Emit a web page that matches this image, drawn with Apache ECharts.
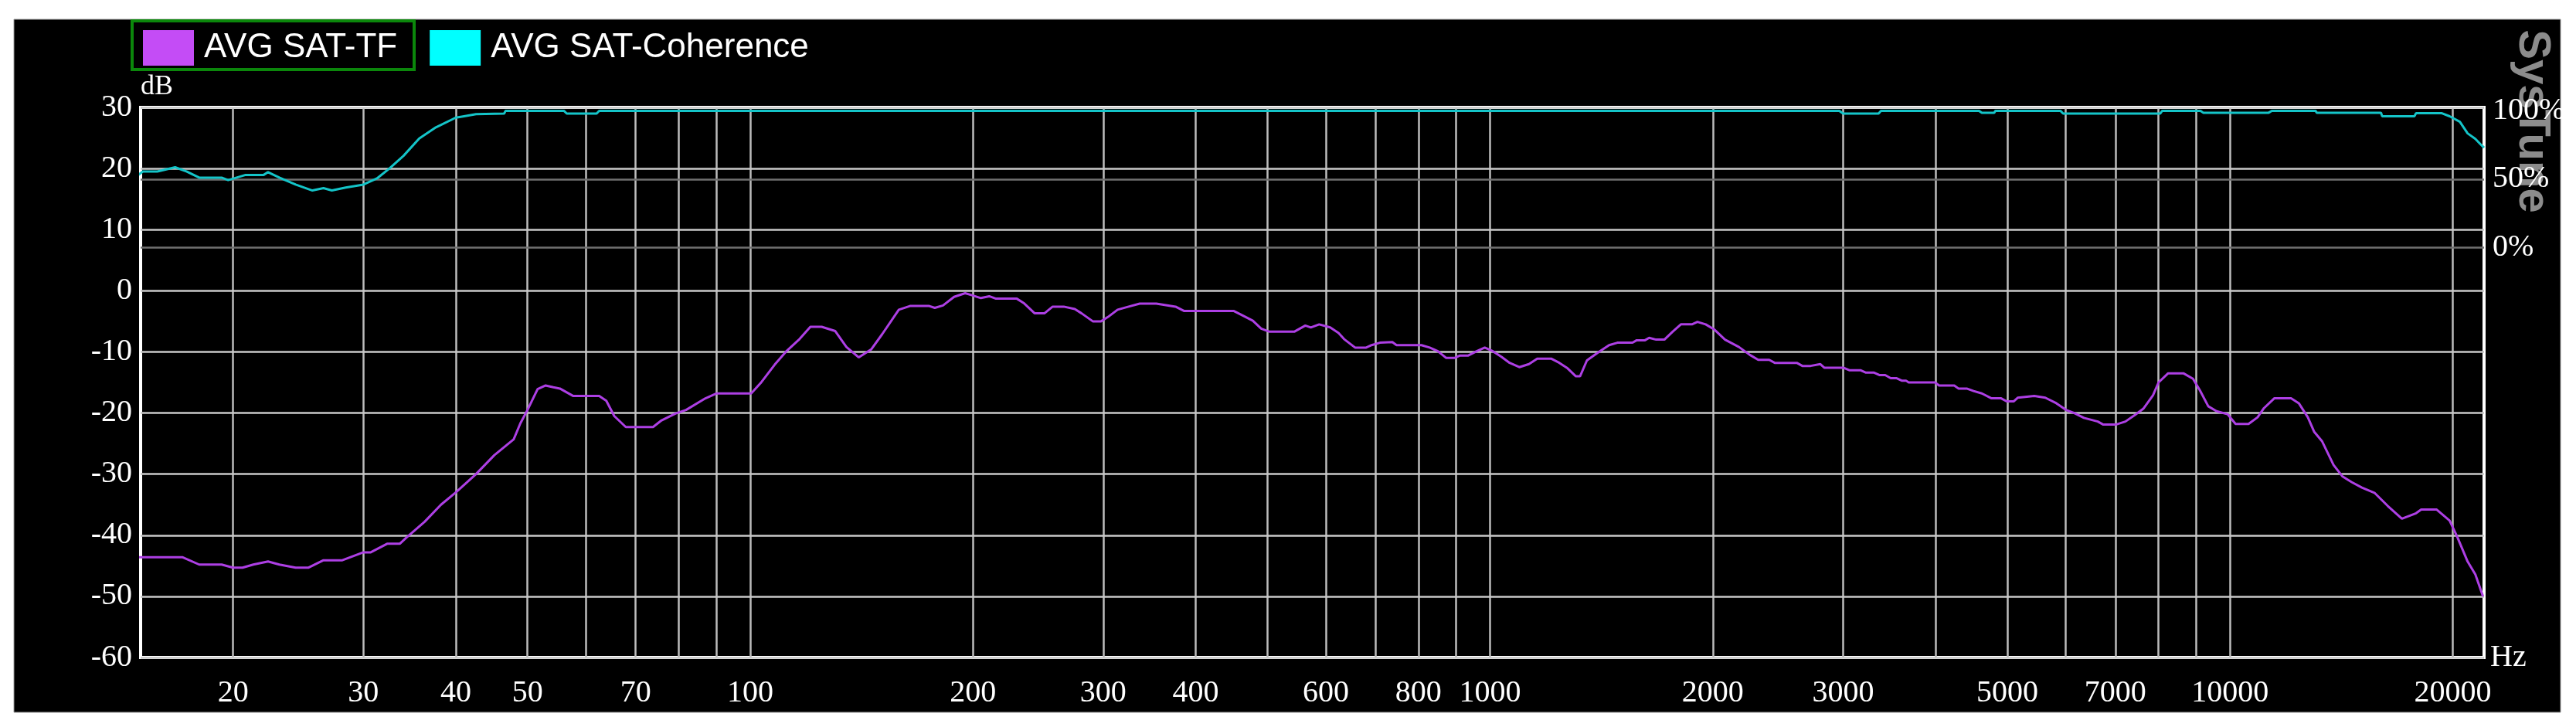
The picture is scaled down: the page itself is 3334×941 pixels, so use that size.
<!DOCTYPE html>
<html>
<head>
<meta charset="utf-8">
<script src="https://cdn.jsdelivr.net/npm/echarts@6.0.0/dist/echarts.min.js"></script>
<style>
html,body{margin:0;padding:0;background:#ffffff;}
#chart{width:3334px;height:941px;}
</style>
</head>
<body>
<div id="chart"></div>
<script>
// ---- data ----
const tfFreq = [14.9,17.1,18.0,19.3,20.0,20.6,21.3,22.3,23.1,24.3,25.3,26.5,28.1,30.0,30.7,32.3,33.6,34.3,36.3,38.2,40.0,42.6,45.1,47.9,48.9,50.0,51.6,52.9,54.2,
  55.3,57.6,62.5,63.9,65.5,67.9,73.9,75.9,79.2,81.9,87.0,90.1,100.3,103.3,107.9,111.7,116.6,120.6,124.9,130.3,134.9,140.2,145.7,150.8,158.8,164.4,174.6,177.6,182.2,188.6,195.2,
  199,205,210.4,214.9,229.3,234.2,242.4,249.8,256.3,265.3,274.6,280.5,290.4,298,304.4,313.7,324.7,336.1,353.9,375.7,385.6,450.1,465.8,477.9,490.5,503.3,543.6,562.7,572.4,587.5,607.9,624,634.7,656.9,680,691.6,709.6,
  737.7,747.4,807.5,828.6,850.2,872.4,895.2,910.6,934.4,958.9,983.5,1009,1035.6,1062.7,1095.2,1128.6,1158,1209.1,1240.6,1273,1306,1323,1351.7,1399.2,1448.2,1486,1557.8,1578.3,1619.5,1640.4,1676.3,1720,1764.7,1810.6,1874,1906.4,1956.3,2007.3,2077.4,2169,2244.6,2303.3,2383.6,2425,2597.4,2642.6,2711.2,
  2795,2831,3006,3058,3166,3221,3304,3362,3420,3479,3540,3600,3648,3679,3993,4044,4240,4295,4407,4503,4620,4761,4906,4991,5100,5165,5439,5628,5825,6003,6160,6347,6627,6742,7008,7222,7442,7636,7870,8007,8250,8650,8913,9107,9347,9591,9926,
  10176,10594,10897,11117,11478,12094,12389,12742,12999,13315,13804,14198,14601,15077,15694,16336,17075,17845,18132,19028,19810,20290,20950,21460,21980];
const tfDb = [-43.6,-43.6,-44.8,-44.8,-45.3,-45.3,-44.8,-44.3,-44.8,-45.3,-45.3,-44.1,-44.1,-42.8,-42.8,-41.4,-41.4,-40.4,-37.8,-35.0,-33.0,-30.0,-26.9,-24.3,-21.7,-19.5,-16.1,-15.5,-15.8,
  -16.0,-17.2,-17.2,-18.0,-20.5,-22.3,-22.3,-21.2,-20.1,-19.5,-17.6,-16.8,-16.8,-15.1,-12.1,-10.0,-7.9,-5.9,-5.9,-6.6,-9.2,-10.9,-9.6,-7.1,-3.1,-2.5,-2.5,-2.8,-2.4,-1.0,-0.4,
  -0.7,-1.2,-0.9,-1.3,-1.3,-2.0,-3.7,-3.7,-2.6,-2.6,-3.0,-3.7,-5.0,-5.0,-4.3,-3.1,-2.6,-2.1,-2.1,-2.6,-3.3,-3.3,-4.2,-4.9,-6.2,-6.7,-6.7,-5.7,-6.0,-5.5,-6.0,-6.9,-7.9,-9.3,-9.3,-8.9,-8.5,
  -8.4,-8.9,-8.9,-9.3,-9.9,-11.0,-11.0,-10.6,-10.6,-9.9,-9.3,-9.9,-10.8,-11.8,-12.5,-12.0,-11.1,-11.1,-11.8,-12.7,-14.0,-14.0,-11.4,-10.1,-8.9,-8.5,-8.5,-8.1,-8.1,-7.7,-8.0,-8.0,-6.7,-5.5,-5.5,-5.1,-5.5,-6.3,-8.0,-9.2,-10.5,-11.3,-11.3,-11.8,-11.8,-12.3,-12.3,
  -12.0,-12.6,-12.6,-13.0,-13.0,-13.4,-13.4,-13.8,-13.8,-14.3,-14.3,-14.7,-14.7,-15.0,-15.0,-15.5,-15.5,-16.0,-16.0,-16.4,-16.8,-17.6,-17.6,-18.1,-18.1,-17.5,-17.2,-17.5,-18.4,-19.5,-20.0,-20.8,-21.4,-21.9,-21.9,-21.4,-20.3,-19.3,-17.1,-15.0,-13.5,-13.5,-14.4,-16.3,-18.9,-19.7,-20.2,
  -21.8,-21.8,-20.7,-19.2,-17.6,-17.6,-18.4,-20.7,-23.1,-24.6,-28.5,-30.4,-31.3,-32.2,-33.1,-35.2,-37.3,-36.4,-35.8,-35.8,-37.6,-40.3,-44.3,-46.4,-50.0];

const cohFreq = [14.9,15.1,15.8,16.7,17.3,18.0,19.3,19.7,20.8,22.0,22.3,23.1,24.3,25.6,26.5,27.2,28.4,30.0,31.3,32.6,34.0,35.7,37.6,40.0,40.9,42.6,46.5,46.7,
  56,56.5,62,62.5,2965,3000,3350,3375,4580,4620,4800,4820,5900,5950,8050,8100,9125,9200,11280,11390,13050,13100,16000,16060,17750,17845,19341,19810,20450,20950,21460,21810,22050];
const cohPct = [53.1,55.6,55.6,58.7,55.6,51.1,51.1,49.3,53.1,53.1,55.1,51.1,46.0,41.7,43.4,41.7,43.9,46.0,50.5,58.2,67.1,79.8,87.9,95.0,95.9,97.5,98,100,
  100,98,98,100,100,98,98,100,100,98.5,98.5,100,100,98,98,100,100,98.6,98.6,100,100,98.6,98.6,96,96,98.2,98.2,96,92,83.5,79.5,75.5,73];

const xLabelValues = [20,30,40,50,70,100,200,300,400,600,800,1000,2000,3000,5000,7000,10000,20000];
const xGridValues = [20,30,40,50,60,70,80,90,100,200,300,400,500,600,700,800,900,1000,2000,3000,4000,5000,6000,7000,8000,9000,10000,20000];
const rightLabelValues = [0,50,100];
const rightGridValues = [0,50];
const seriesNames = ['AVG SAT-TF','AVG SAT-Coherence'];

// ---- chart ----
const serif = '"Liberation Serif","Times New Roman",serif';
const sans = '"Liberation Sans",Arial,sans-serif';
const chart = echarts.init(document.getElementById('chart'), null, {renderer:'canvas'});
const option = {
  backgroundColor: '#ffffff',
  animation: false,
  graphic: [
    {type:'rect', z:-10, shape:{x:18,y:25,width:3296,height:897}, style:{fill:'#000000', stroke:'#9a9a9a', lineWidth:1}},
    {type:'rect', z:10, shape:{x:171,y:27,width:365,height:63}, style:{fill:null, stroke:'#0b870b', lineWidth:4}},
    {type:'text', z:1, x:3277, y:157, rotation:-Math.PI/2,
      style:{text:'SysTune', fill:'#8c8c8c', font:'bold 58px ' + sans, align:'center', verticalAlign:'middle'}}
  ],
  legend: {
    left: 180, top: 34, itemWidth: 66, itemHeight: 46, itemGap: 42, icon: 'rect',
    selectedMode: false,
    textStyle: {color:'#ffffff', fontSize:44, fontFamily:sans, padding:[0,0,0,8]},
    data: [{name:seriesNames[0], itemStyle:{color:'#c44cf6'}}, {name:seriesNames[1], itemStyle:{color:'#00ffff'}}]
  },
  grid: {left:182, top:139, right:119, bottom:90, show:true, borderColor:'#ffffff', borderWidth:4,
    backgroundColor:'transparent', containLabel:false, outerBoundsMode:'none'},
  xAxis: {
    type:'log', logBase:10, min:15, max:22050,
    name:'Hz', nameLocation:'end', nameGap:8,
    nameTextStyle:{color:'#ffffff', fontSize:40, fontFamily:serif, align:'left', verticalAlign:'middle', padding:[0,0,18,0]},
    axisLine:{show:false, onZero:false},
    axisTick:{show:false, customValues:xGridValues},
    axisLabel:{customValues:xLabelValues, color:'#ffffff', fontSize:40, fontFamily:serif, margin:26,
      formatter: v => String(Math.round(v))},
    splitLine:{show:true, lineStyle:{color:'#bcbcbc', width:2.5}},
    minorSplitLine:{show:false}
  },
  yAxis: [
    {type:'value', min:-60, max:30, interval:10, position:'left', z:3,
      name:'dB', nameLocation:'end', nameGap:8,
      nameTextStyle:{color:'#ffffff', fontSize:36, fontFamily:serif, align:'left'},
      axisLine:{show:false, onZero:false}, axisTick:{show:false},
      axisLabel:{color:'#ffffff', fontSize:40, fontFamily:serif, margin:11},
      splitLine:{show:true, lineStyle:{color:'#c8c8c8', width:2.5}}},
    {type:'value', min:-300, max:102.5, position:'right', z:3,
      axisLine:{show:false, onZero:false},
      axisTick:{show:false, customValues:rightGridValues},
      axisLabel:{customValues:rightLabelValues, formatter:'{value}%', color:'#ffffff', fontSize:40, fontFamily:serif, margin:11},
      splitLine:{show:true, lineStyle:{color:'#707070', width:2.5}}}
  ],
  series: [
    {name:seriesNames[0], type:'line', xAxisIndex:0, yAxisIndex:0, symbol:'none', showSymbol:false, z:4,
      data: tfFreq.map((f,i)=>[f, tfDb[i]]),
      lineStyle:{color:'#ad3fe4', width:3}, itemStyle:{color:'#c44cf6'}},
    {name:seriesNames[1], type:'line', xAxisIndex:0, yAxisIndex:1, symbol:'none', showSymbol:false, z:4,
      data: cohFreq.map((f,i)=>[f, cohPct[i]]),
      lineStyle:{color:'#14c4c8', width:3}, itemStyle:{color:'#00ffff'}}
  ]
};
chart.setOption(option);
</script>
</body>
</html>
